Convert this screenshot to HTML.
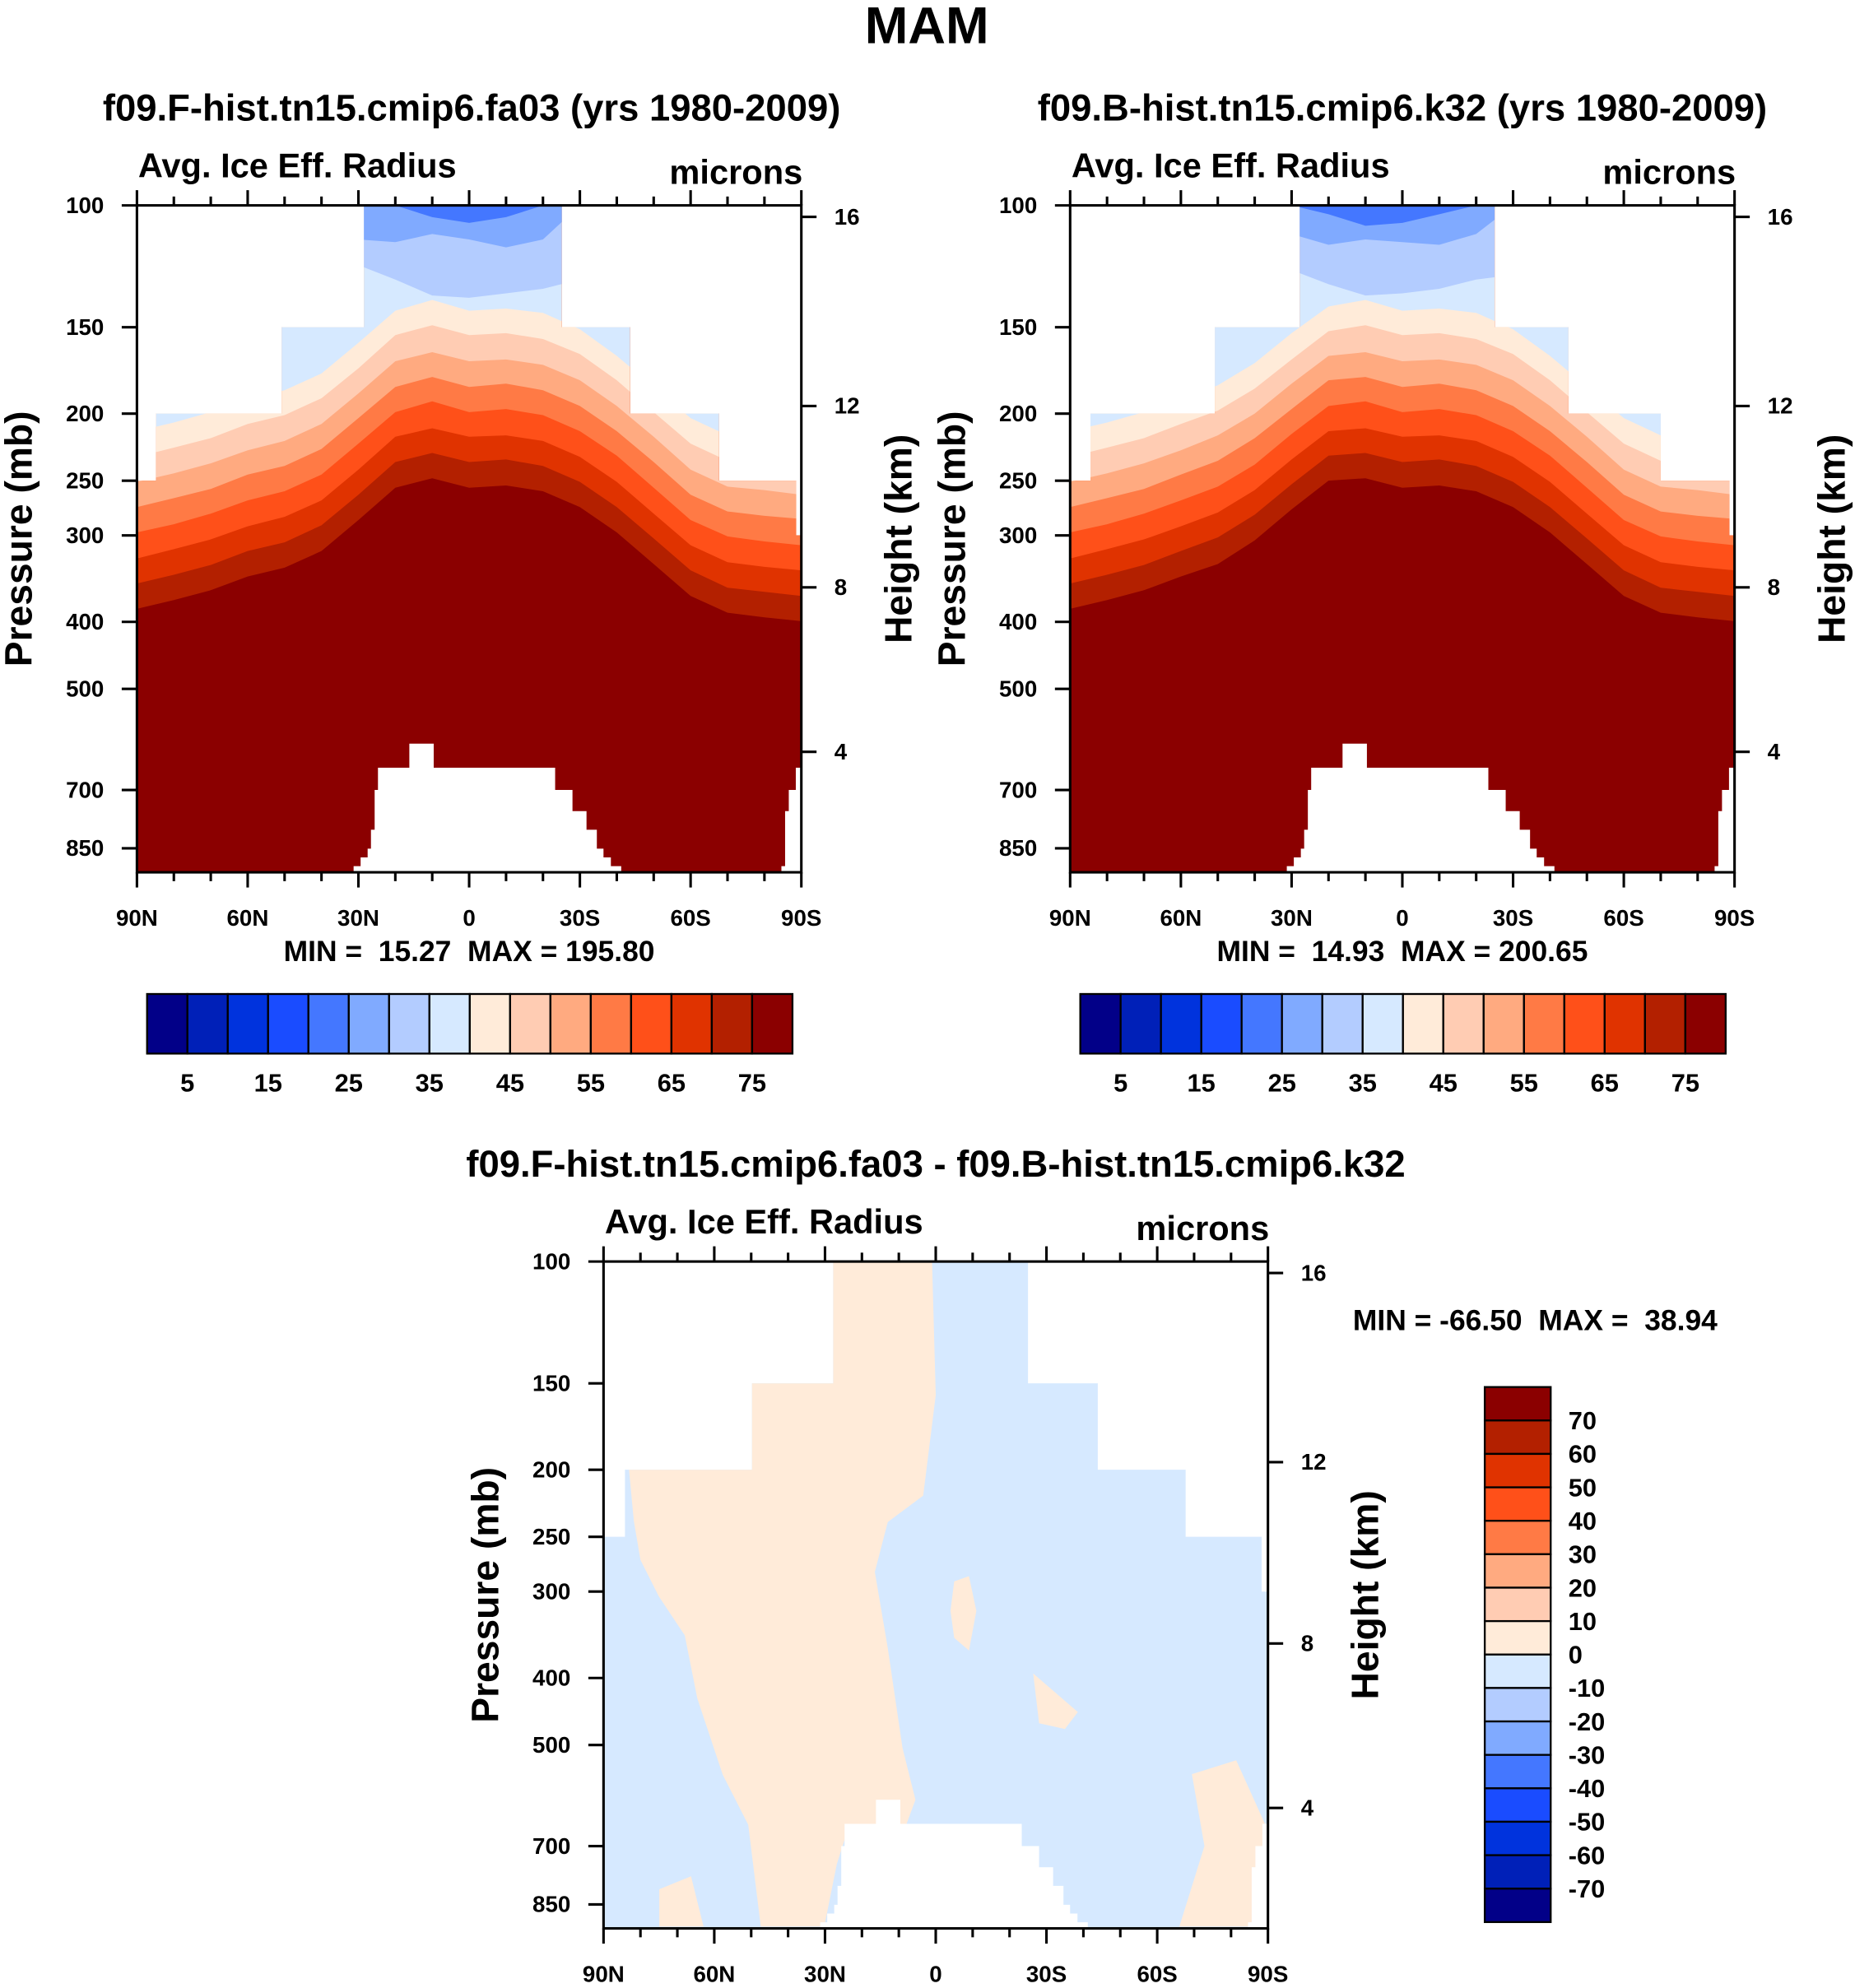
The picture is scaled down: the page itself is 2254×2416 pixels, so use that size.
<!DOCTYPE html>
<html><head><meta charset="utf-8"><style>
html,body{margin:0;padding:0;background:#fff}
svg{display:block}
text{font-family:"Liberation Sans",sans-serif;font-weight:bold;fill:#000;white-space:pre}
</style></head><body>
<svg id="chart" xmlns="http://www.w3.org/2000/svg" width="2254" height="2416" viewBox="0 0 1463 1568" preserveAspectRatio="none">
<text x="731" y="34" font-size="41" text-anchor="middle">MAM</text>
</svg>
<script>
// ---- data ----
const lats = [90,80,70,60,50,40,30,20,10,0,-10,-20,-30,-40,-50,-60,-70,-80,-90];
const levels = [5,10,15,20,25,30,35,40,45,50,55,60,65,70,75];
const cbLabels = ['5','15','25','35','45','55','65','75'];
const diffLabels = ['70','60','50','40','30','20','10','0','-10','-20','-30','-40','-50','-60','-70'];
const colors = ['#020088','#0020B8','#0033DD','#1A4CFF','#4477FF','#80AAFF','#B3CCFF','#D6E9FF','#FFEBD9','#FFCCB3','#FFAA80','#FF7A45','#FF5019','#E03300','#B32000','#8B0000'];
const pTicks = [100,150,200,250,300,400,500,700,850];
const hTicksKm = [16,12,8,4];
const hTicksP = [103.9,195,356.6,616.5];
const xTickLats = [90,60,30,0,-30,-60,-90];
const xTickLabels = ['90N','60N','30N','0','30S','60S','90S'];

// left panel contours (pressure mb per lat)
const L_c75 = [383,372,360,344,334,316,285,256,248,256,254,259,273,297,330,367,388,394,399];
const L_c70 = [352,342,331,316,307,290,262,235,228,235,233,238,251,273,303,337,357,362,367];
const L_c65 = [324,314,304,291,282,267,241,216,210,216,215,219,231,251,279,310,328,333,337];
const L_c60 = [297,289,279,267,259,245,221,199,192,199,197,201,212,230,256,285,301,306,310];
const L_c55 = [273,265,257,245,238,225,203,183,177,183,181,185,195,212,235,262,277,281,284];
const L_c50 = [251,244,236,226,219,207,187,168,163,168,167,170,179,195,216,241,255,258,262];
const L_c45 = [231,224,217,207,201,190,172,154,149,154,153,156,164,179,199,221,234,237,240];
const L_c40 = [212,206,199,191,185,175,158,142,137,142,141,143,151,165,183,203,215,218,221];
const L_c35 = [100,100,100,100,100,100,122,128,135,136,134,132,128,100,100,100,100,100,100];
const L_c30 = [100,100,100,100,100,100,112,113,110,112,115,112,100,100,100,100,100,100,100];
const L_c25 = [100,100,100,100,100,100,100,100,104,106,104,100,100,100,100,100,100,100,100];
const L_topLat = [90,84.8,50.8,28.5,-25.1,-43.6,-67.7,-88.6,-90];
const L_topP = [250,200,150,100,150,200,250,300];

// right panel contours
const R_c75 = [383,372,360,344,330,305,275,250,248,256,254,259,273,297,330,367,388,394,399];
const R_c70 = [352,342,331,316,302,280,253,230,228,235,233,238,251,273,303,337,357,362,367];
const R_c65 = [324,314,304,291,278,258,233,212,210,216,215,219,231,251,279,310,328,333,337];
const R_c60 = [297,289,279,267,255,237,214,195,192,199,197,201,212,230,256,285,301,306,310];
const R_c55 = [273,265,257,245,234,217,197,179,177,183,181,185,195,212,235,262,277,281,284];
const R_c50 = [251,244,236,226,215,200,181,165,163,168,167,170,179,195,216,241,255,258,262];
const R_c45 = [231,224,217,207,198,184,167,152,149,154,153,156,164,179,199,221,234,237,240];
const R_c40 = [212,206,199,191,182,169,153,140,137,142,141,143,151,165,183,203,215,218,221];
const R_c35 = [100,100,100,100,100,100,124,130,135,134,132,128,126,100,100,100,100,100,100];
const R_c30 = [100,100,100,100,100,100,110,114,112,113,114,110,100,100,100,100,100,100,100];
const R_c25 = [100,100,100,100,100,100,100,103,107,106,103,100,100,100,100,100,100,100,100];
const R_topLat = [90,84.5,50.8,27.8,-25,-45,-70,-88.6,-90];
const R_topP = [250,200,150,100,150,200,250,300];

// difference panel
const D_topLat = [90,84.2,49.8,27.8,-25,-43.9,-67.7,-88.3,-90];
const D_topP = [250,200,150,100,150,200,250,300];
const creamLat1 = [83.1,49.8,49.8,27.8,27.8,1,0,3.4,13,16.5,13,9,5.5,8,23.4,26.8,30.2,47.4,50.8,57.7,64.6,68,75,80,81.8];
const creamP1 = [200,200,150,150,100,100,156,218,238,281,362,505,600,652,652,743,915,915,652,552,428,347,305,270,237];
const creamLat2 = [-5,-9,-11,-9,-5,-4];
const creamP2 = [290,285,320,365,350,320];
const creamLat3 = [-26.4,-38.5,-35,-28];
const creamP3 = [394,448,474,465];
const creamLat4 = [-69.4,-81.4,-89.3,-90,-66,-72.8];
const creamP4 = [551,526,652,915,915,700];
const creamLat5 = [74.9,66.3,62.9,74.9];
const creamP5 = [808,774,915,915];

// topography (white, below ground)
const topoLat = [31.3,31.3,29.4,29.4,27.5,27.5,26.6,26.6,25.6,25.6,24.7,24.7,16.2,16.2,9.6,9.6,-23.3,-23.3,-28,-28,-31.8,-31.8,-34.6,-34.6,-36.4,-36.4,-38.4,-38.4,-41.2,-41.2];
const topoP = [1000,902,902,876,876,851,851,799,799,700,700,650,650,600,600,650,650,700,700,751,751,799,799,851,851,876,876,902,902,1000];
const topoLatR = [-84.6,-84.6,-85.6,-85.6,-86.6,-86.6,-88.5,-88.5,-90,-90];
const topoPR = [1000,902,902,751,751,700,700,650,650,1000];

// ---- drawing ----
const NS='http://www.w3.org/2000/svg';
const svg=document.getElementById('chart');
function mk(tag,attrs,parent){const e=document.createElementNS(NS,tag);for(const k in attrs)e.setAttribute(k,attrs[k]);(parent||svg).appendChild(e);return e;}
let clipId=0;

function makePanel(o){
  const x0=o.x0,y0=o.y0,W=524,H=526,K=545.6;
  const X=lat=>x0+(90-lat)/180*W;
  const Y=p=>y0+(Math.log10(p)-2)*K;
  const g=mk('g',{});
  
  
  const cid='clip'+(clipId++);
  const cp=mk('clipPath',{id:cid},g);
  let d='';
  for(let i=0;i<o.topP.length;i++){
    d+=(i?'L':'M')+X(o.topLat[i])+','+Y(o.topP[i])+'L'+X(o.topLat[i+1])+','+Y(o.topP[i]);
  }
  d+='L'+X(-90)+','+(y0+H)+'L'+X(90)+','+(y0+H)+'Z';
  mk('path',{d:d},cp);
  const dg=mk('g',{'clip-path':'url(#'+cid+')'},g);
  const field=mk('rect',{x:x0,y:y0,width:W,height:H,fill:o.base},dg);
  
  
  (o.contours||[]).forEach(c=>{
    let pd='M'+X(90)+','+(y0-5);
    lats.forEach((la,i)=>{pd+='L'+X(la)+','+Y(c.p[i]);});
    pd+='L'+X(-90)+','+(y0-5)+'Z';
    const e=mk('path',{d:pd,fill:c.color},dg);
    
    
  });
  (o.polys||[]).forEach((pp,j)=>{
    const pts=pp.lat.map((la,i)=>X(la)+','+Y(pp.p[i])).join(' ');
    const e=mk('polygon',{points:pts,fill:pp.color},dg);
    
    
  });
  [[topoLat,topoP],[topoLatR,topoPR]].forEach(([la,pp])=>{
    const pts=la.map((l,i)=>X(l)+','+Math.min(Y(pp[i]),y0+H)).join(' ');
    const e=mk('polygon',{points:pts,fill:'#fff'},g);
    
    
  });
  const fr=mk('rect',{x:x0,y:y0,width:W,height:H,fill:'none',stroke:'#000','stroke-width':2},g);
  
  
  pTicks.forEach(p=>{
    const y=Y(p);
    mk('line',{x1:x0-12,y1:y,x2:x0,y2:y,stroke:'#000','stroke-width':2},g);
    const t=mk('text',{x:x0-26,y:y+6,'font-size':18,'text-anchor':'end'},g);
    t.textContent=p;
    
    
  });
  hTicksKm.forEach((km,i)=>{
    const y=Y(hTicksP[i]);
    mk('line',{x1:x0+W,y1:y,x2:x0+W+12,y2:y,stroke:'#000','stroke-width':2},g);
    const t=mk('text',{x:x0+W+26,y:y+6,'font-size':18},g);
    t.textContent=km;
    
    
  });
  for(let la=90;la>=-90;la-=10){
    const x=X(la),maj=(la%30===0);
    const L=maj?12:7;
    mk('line',{x1:x,y1:y0+H,x2:x,y2:y0+H+L,stroke:'#000','stroke-width':2},g);
    mk('line',{x1:x,y1:y0,x2:x,y2:y0-L,stroke:'#000','stroke-width':2},g);
  }
  xTickLats.forEach((la,i)=>{
    const t=mk('text',{x:X(la),y:y0+H+42,'font-size':18,'text-anchor':'middle'},g);
    t.textContent=xTickLabels[i];
    
    
  });
  const tt=mk('text',{x:o.titleX,y:y0-67,'font-size':29.5,'text-anchor':'middle'},g);
  tt.textContent=o.title;
  
  
  const lt=mk('text',{x:x0+1,y:y0-22,'font-size':27},g);
  lt.textContent='Avg. Ice Eff. Radius';
  
  
  const ut=mk('text',{x:x0+W+1,y:y0-17,'font-size':27,'text-anchor':'end'},g);
  ut.textContent='microns';
  
  
  const yt=mk('text',{x:0,y:0,'font-size':30,'text-anchor':'middle',transform:'translate('+(x0-83)+','+(y0+263)+') rotate(-90)'},g);
  yt.textContent='Pressure (mb)';
  
  
  const ht=mk('text',{x:0,y:0,'font-size':30,'text-anchor':'middle',transform:'translate('+(x0+W+87)+','+(y0+263)+') rotate(-90)'},g);
  ht.textContent='Height (km)';
  
  
  const mm=mk('text',{x:o.mmX,y:o.mmY,'font-size':23,'text-anchor':o.mmAnchor},g);
  mm.textContent=o.minmax;
  
  
}

function contourSet(arrs){
  const lv=[75,70,65,60,55,50,45,40,35,30,25];
  return arrs.map((a,i)=>({level:lv[i],p:a,color:colors[14-i]}));
}

makePanel({name:'control-panel',x0:108,y0:162,topLat:L_topLat,topP:L_topP,base:colors[15],
  contours:contourSet([L_c75,L_c70,L_c65,L_c60,L_c55,L_c50,L_c45,L_c40,L_c35,L_c30,L_c25]),
  title:'f09.F-hist.tn15.cmip6.fa03 (yrs 1980-2009)',titleX:372,minmax:'MIN =  15.27  MAX = 195.80',mmX:370,mmY:758,mmAnchor:'middle'});
makePanel({name:'test-panel',x0:844,y0:162,topLat:R_topLat,topP:R_topP,base:colors[15],
  contours:contourSet([R_c75,R_c70,R_c65,R_c60,R_c55,R_c50,R_c45,R_c40,R_c35,R_c30,R_c25]),
  title:'f09.B-hist.tn15.cmip6.k32 (yrs 1980-2009)',titleX:1106,minmax:'MIN =  14.93  MAX = 200.65',mmX:1106,mmY:758,mmAnchor:'middle'});
makePanel({name:'difference-panel',x0:476,y0:995,topLat:D_topLat,topP:D_topP,base:colors[7],
  polys:[{lat:creamLat1,p:creamP1,color:colors[8]},{lat:creamLat2,p:creamP2,color:colors[8]},{lat:creamLat3,p:creamP3,color:colors[8]},{lat:creamLat4,p:creamP4,color:colors[8]},{lat:creamLat5,p:creamP5,color:colors[8]}],
  title:'f09.F-hist.tn15.cmip6.fa03 - f09.B-hist.tn15.cmip6.k32',titleX:738,minmax:'MIN = -66.50  MAX =  38.94',mmX:1067,mmY:1049,mmAnchor:'start'});

function hbar(x0,name){
  const g=mk('g',{});
  
  
  const W=509,H=47,y0=784,bw=W/colors.length;
  colors.forEach((c,i)=>{
    const r=mk('rect',{x:x0+i*bw,y:y0,width:bw,height:H,fill:c,stroke:'#000','stroke-width':1.5},g);
    
    
  });
  cbLabels.forEach((l,i)=>{
    const t=mk('text',{x:x0+(2*i+1)*bw,y:861,'font-size':20,'text-anchor':'middle'},g);
    t.textContent=l;
    
    
  });
}
hbar(116,'control-colorbar');
hbar(852,'test-colorbar');
(function(){
  const g=mk('g',{});
  
  
  const x0=1171,y0=1094,W=52,bh=422/colors.length;
  colors.slice().reverse().forEach((c,i)=>{
    const r=mk('rect',{x:x0,y:y0+i*bh,width:W,height:bh,fill:c,stroke:'#000','stroke-width':1.5},g);
    
    
  });
  diffLabels.forEach((l,i)=>{
    const t=mk('text',{x:1237,y:y0+(i+1)*bh+7,'font-size':20},g);
    t.textContent=l;
    
    
  });
})();
</script>
</body></html>
